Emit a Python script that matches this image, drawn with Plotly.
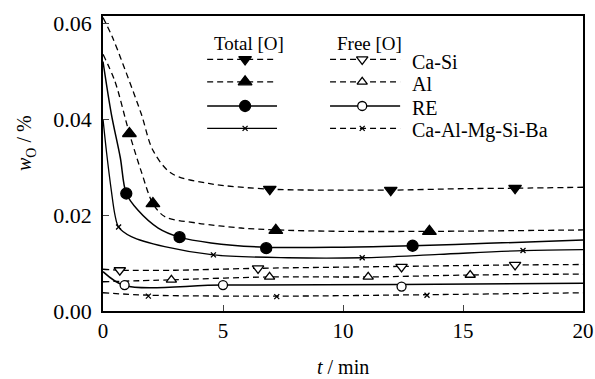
import plotly.graph_objects as go

# ---------------- data ----------------
# Total [O] curves
casi_tot_t = [0, 0.4, 0.83, 1.6, 2.08, 2.85, 4.4, 6.95, 10, 12, 15, 17.2, 20]
casi_tot_v = [0.0612, 0.057, 0.0515, 0.041, 0.0335, 0.0287, 0.0266, 0.0254, 0.0252, 0.0252, 0.0255, 0.0256, 0.0258]
casi_tot_mt = [6.95, 11.99, 17.17]
casi_tot_mv = [0.0254, 0.0252, 0.0256]

al_tot_t = [0, 0.49, 1.1, 1.6, 2.08, 2.57, 3.96, 5.75, 7.2, 10, 13.6, 20]
al_tot_v = [0.0535, 0.048, 0.037, 0.029, 0.0224, 0.0197, 0.0183, 0.0173, 0.0169, 0.0166, 0.0166, 0.0169]
al_tot_mt = [1.1, 2.08, 7.2, 13.6]
al_tot_mv = [0.037, 0.0224, 0.0168, 0.0166]

re_tot_t = [0, 0.35, 0.72, 0.97, 1.46, 2.3, 3.19, 4.5, 6.8, 10, 12.9, 16, 20]
re_tot_v = [0.052, 0.041, 0.032, 0.0245, 0.021, 0.0173, 0.0154, 0.0142, 0.0133, 0.0133, 0.0136, 0.0141, 0.0148]
re_tot_mt = [0.97, 3.19, 6.8, 12.9]
re_tot_mv = [0.0245, 0.0154, 0.0131, 0.0136]

camsb_tot_t = [0, 0.15, 0.35, 0.5, 0.65, 1.18, 2.57, 4.6, 7.7, 10.8, 14, 17.5, 20]
camsb_tot_v = [0.040, 0.033, 0.025, 0.020, 0.0175, 0.0155, 0.0134, 0.0117, 0.0111, 0.0111, 0.0118, 0.0126, 0.0128]
camsb_tot_mt = [0.65, 4.6, 10.8, 17.5]
camsb_tot_mv = [0.0175, 0.0117, 0.0111, 0.0126]

# Free [O] curves
casi_free_t = [0, 0.7, 3, 6.46, 12.44, 17.17, 20]
casi_free_v = [0.0087, 0.0085, 0.0085, 0.0089, 0.0093, 0.0096, 0.0097]
casi_free_mt = [0.7, 6.46, 12.44, 17.17]
casi_free_mv = [0.0085, 0.0089, 0.0092, 0.0096]

al_free_t = [0, 2.85, 6.94, 11.05, 15.3, 20]
al_free_v = [0.0061, 0.0065, 0.0071, 0.0071, 0.0075, 0.0077]
al_free_mt = [2.85, 6.94, 11.05, 15.3]
al_free_mv = [0.0065, 0.0071, 0.0071, 0.0075]

re_free_t = [0, 0.9, 5.0, 12.4, 20]
re_free_v = [0.0082, 0.0053, 0.0054, 0.0055, 0.0058]
re_free_mt = [0.9, 5.0, 12.44]
re_free_mv = [0.0054, 0.0054, 0.0051]

camsb_free_t = [0, 1.89, 7.24, 13.5, 20]
camsb_free_v = [0.0038, 0.0033, 0.0031, 0.0034, 0.0038]
camsb_free_mt = [1.89, 7.24, 13.5]
camsb_free_mv = [0.0031, 0.0030, 0.0033]

x_ticks = [0, 5, 10, 15, 20]
y_ticks = [0.00, 0.02, 0.04, 0.06]
y_tick_text = ["0.00", "0.02", "0.04", "0.06"]

series_names = ["Ca-Si", "Al", "RE", "Ca-Al-Mg-Si-Ba"]

# ---------------- styling ----------------
FONT = "Liberation Serif"
BLK = "black"
DASH = "6px,4px"

fig = go.Figure()

def add_series(t, v, mt, mv, dash, symbol, size, fill, lw=1.3, smooth=0.9):
    fig.add_trace(go.Scatter(x=t, y=v, mode="lines",
                             line=dict(color=BLK, width=lw, dash=dash, shape="spline", smoothing=smooth),
                             showlegend=False, hoverinfo="skip"))
    fig.add_trace(go.Scatter(x=mt, y=mv, mode="markers",
                             marker=dict(symbol=symbol, size=size, color=fill,
                                         line=dict(color=BLK, width=1.3)),
                             showlegend=False, hoverinfo="skip"))

add_series(casi_tot_t, casi_tot_v, casi_tot_mt, casi_tot_mv, DASH, "triangle-down", 11, BLK)
add_series(al_tot_t, al_tot_v, al_tot_mt, al_tot_mv, DASH, "triangle-up", 12, BLK)
add_series(re_tot_t, re_tot_v, re_tot_mt, re_tot_mv, "solid", "circle", 11, BLK, lw=1.5)
add_series(camsb_tot_t, camsb_tot_v, camsb_tot_mt, camsb_tot_mv, "solid", "x-thin", 5, BLK)

add_series(casi_free_t, casi_free_v, casi_free_mt, casi_free_mv, DASH, "triangle-down", 10, "white")
add_series(al_free_t, al_free_v, al_free_mt, al_free_mv, DASH, "triangle-up", 9, "white")
add_series(re_free_t, re_free_v, re_free_mt, re_free_mv, "solid", "circle", 9, "white", lw=1.5)
add_series(camsb_free_t, camsb_free_v, camsb_free_mt, camsb_free_mv, DASH, "x-thin", 5, "white")

# ---------------- hand-drawn legend on an overlay axis (0..1) ----------------
leg_rows = [0.853, 0.777, 0.695, 0.619]
tot_x = (0.217, 0.3625, 0.296)
free_x = (0.473, 0.619, 0.54)
tot_style = [(DASH, "triangle-down", 11, BLK), (DASH, "triangle-up", 12, BLK),
             ("solid", "circle", 11, BLK), ("solid", "x-thin", 5, BLK)]
free_style = [(DASH, "triangle-down", 10, "white"), (DASH, "triangle-up", 9, "white"),
              ("solid", "circle", 9, "white"), (DASH, "x-thin", 5, "white")]
for yy, (d, s, sz, c) in zip(leg_rows, tot_style):
    fig.add_trace(go.Scatter(x=[tot_x[0], tot_x[1]], y=[yy, yy], mode="lines", xaxis="x2", yaxis="y2",
                             line=dict(color=BLK, width=1.3, dash=d), showlegend=False, hoverinfo="skip"))
    fig.add_trace(go.Scatter(x=[tot_x[2]], y=[yy], mode="markers", xaxis="x2", yaxis="y2",
                             marker=dict(symbol=s, size=sz, color=c, line=dict(color=BLK, width=1.3)),
                             showlegend=False, hoverinfo="skip"))
for yy, (d, s, sz, c) in zip(leg_rows, free_style):
    fig.add_trace(go.Scatter(x=[free_x[0], free_x[1]], y=[yy, yy], mode="lines", xaxis="x2", yaxis="y2",
                             line=dict(color=BLK, width=1.3, dash=d), showlegend=False, hoverinfo="skip"))
    fig.add_trace(go.Scatter(x=[free_x[2]], y=[yy], mode="markers", xaxis="x2", yaxis="y2",
                             marker=dict(symbol=s, size=sz, color=c, line=dict(color=BLK, width=1.3)),
                             showlegend=False, hoverinfo="skip"))

annotations = [
    dict(x=0.305, y=0.908, xref="x2", yref="y2", text="Total [O]", showarrow=False,
         font=dict(family=FONT, size=19, color=BLK)),
    dict(x=0.555, y=0.908, xref="x2", yref="y2", text="Free [O]", showarrow=False,
         font=dict(family=FONT, size=19, color=BLK)),
]
for yy, name in zip(leg_rows, series_names):
    annotations.append(dict(x=0.64, y=yy - 0.008, xref="x2", yref="y2", text=name, showarrow=False,
                            xanchor="left", font=dict(family=FONT, size=20, color=BLK)))

# axis titles
annotations.append(dict(x=0.5, y=-0.19, xref="paper", yref="paper", yanchor="middle", xanchor="center",
                        text="<i>t</i> / min", showarrow=False, font=dict(family=FONT, size=20, color=BLK)))
annotations.append(dict(x=-0.16, y=0.57, xref="paper", yref="paper", xanchor="center", yanchor="middle",
                        textangle=-90, text="<i>w</i><sub>O</sub> / %", showarrow=False,
                        font=dict(family=FONT, size=20, color=BLK)))

fig.update_layout(
    width=595, height=379,
    margin=dict(l=103, r=12, t=16, b=68, autoexpand=False),
    paper_bgcolor="white", plot_bgcolor="white",
    font=dict(family=FONT, size=20, color=BLK),
    xaxis=dict(range=[0, 20], tickvals=x_ticks, ticks="inside", ticklen=6, tickwidth=1.2,
               showline=True, linecolor=BLK, linewidth=1.5, mirror=True, showgrid=False,
               zeroline=False, automargin=False, tickfont=dict(family=FONT, size=21, color=BLK)),
    yaxis=dict(range=[0, 0.0615], tickvals=y_ticks, ticktext=y_tick_text, ticks="inside", ticklen=6,
               tickwidth=1.2, showline=True, linecolor=BLK, linewidth=1.5, mirror=True, showgrid=False,
               zeroline=False, automargin=False, ticklabelstandoff=5,
               tickfont=dict(family=FONT, size=22, color=BLK)),
    xaxis2=dict(range=[0, 1], overlaying="x", visible=False),
    yaxis2=dict(range=[0, 1], overlaying="y", visible=False),
    annotations=annotations,
    showlegend=False,
)

fig.write_html("out.html", config={"displayModeBar": False},
               post_script="document.body.style.margin='0';document.body.style.overflow='hidden';")
